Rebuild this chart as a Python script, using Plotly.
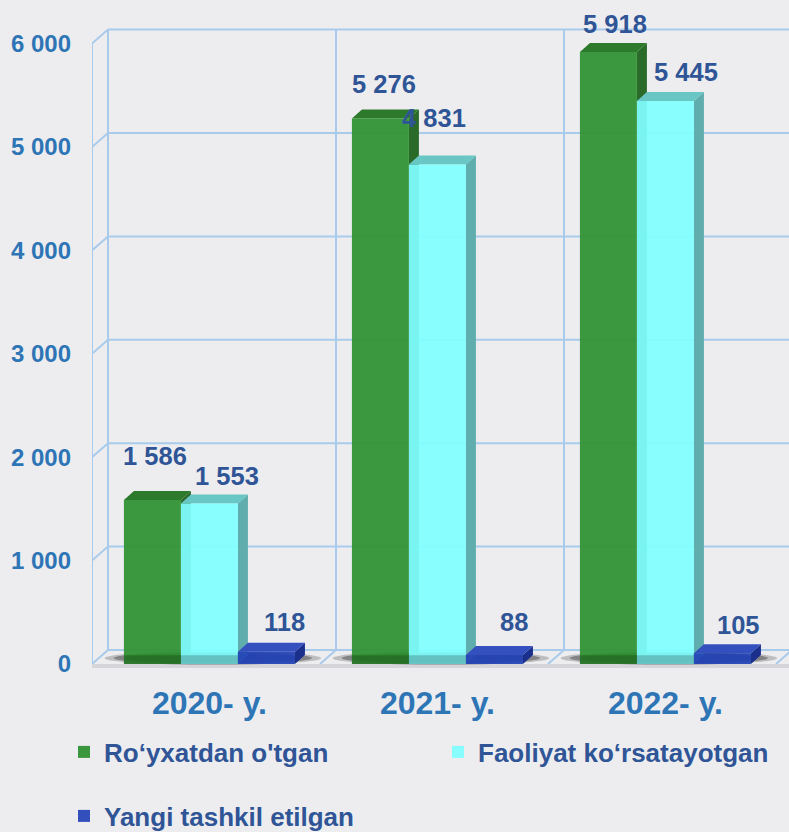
import plotly.graph_objects as go

# ---------------- data ----------------
categories = ["2020- y.", "2021- y.", "2022- y."]
series_names = ["Ro‘yxatdan o'tgan", "Faoliyat ko‘rsatayotgan", "Yangi tashkil etilgan"]
registered = [1586, 5276, 5918]
active = [1553, 4831, 5445]
new_created = [118, 88, 105]
y_tick_values = [0, 1000, 2000, 3000, 4000, 5000, 6000]
y_tick_labels = ["0", "1 000", "2 000", "3 000", "4 000", "5 000", "6 000"]

series_values = [registered, active, new_created]

# ---------------- style ----------------
BG = "#EDEDF0"
GRID = "#A9CBEB"
TICK_BLUE = "#2E75B6"
LABEL_BLUE = "#2F5597"
FONT = "Liberation Sans, Arial, sans-serif"
front_colors = ["#2E9130", "#80FFFF", "#2444B8"]
top_colors = ["#2E7A2C", "#68C6C4", "#3450BE"]
side_colors = ["#2B6B2A", "#5FAEAD", "#1A2E8C"]

W = 789
H = 832
ML, MR, MT, MB = 92, 0, 20, 152
PX_PER_X = 228.0
PX_PER_Y = 0.1034
X_MIN = -0.515
X_MAX = X_MIN + (W - ML - MR) / PX_PER_X
Y_MIN = -(680 - 664) / PX_PER_Y
Y_MAX = Y_MIN + (H - MT - MB) / PX_PER_Y

BAR_W = 0.25
BAR_DX = 10 / PX_PER_X
BAR_DY = 9 / PX_PER_Y
WALL_DX = 16 / PX_PER_X
WALL_DY = 14 / PX_PER_Y

# label offsets in pixels (x shift, y above front top) per series / year
label_dx = [[2.5, 4, 6.5], [17.5, -3, 21], [18, 20, 16]]
label_dy = [[44, 34, 28], [27, 46, 28.5], [30, 33, 28]]

# legend placement (pixels in the page) per series
legend_pos = [(64, 752), (438, 752), (64, 816)]

x_idx = list(range(len(categories)))
legend_ids = ["legend", "legend2", "legend3"]

fig = go.Figure()
for s, (name, vals) in enumerate(zip(series_names, series_values)):
    fig.add_trace(go.Bar(
        x=x_idx, y=vals, name=name,
        width=BAR_W, offset=-1.5 * BAR_W + s * BAR_W,
        marker=dict(color=front_colors[s], line=dict(width=0)),
        opacity=0.93,
        legend=legend_ids[s],
        hoverinfo="skip",
    ))

shapes = []
line_style = dict(color=GRID, width=2)

# back wall gridlines + left wall diagonals
for v in y_tick_values:
    shapes.append(dict(type="line", xref="x", yref="y", layer="below",
                       x0=X_MIN + WALL_DX, x1=X_MAX + 0.2, y0=v + WALL_DY, y1=v + WALL_DY, line=line_style))
    shapes.append(dict(type="line", xref="x", yref="y", layer="below",
                       x0=X_MIN, x1=X_MIN + WALL_DX, y0=v, y1=v + WALL_DY, line=line_style))
shapes.append(dict(type="line", xref="x", yref="y", layer="below",
                   x0=X_MIN, x1=X_MIN, y0=0, y1=y_tick_values[-1], line=line_style))
for k in range(len(categories) + 1):
    xb = X_MIN + k
    shapes.append(dict(type="line", xref="x", yref="y", layer="below",
                       x0=xb + WALL_DX, x1=xb + WALL_DX, y0=WALL_DY, y1=y_tick_values[-1] + WALL_DY,
                       line=line_style))
    if k > 0:
        shapes.append(dict(type="line", xref="x", yref="y", layer="below",
                           x0=xb, x1=xb + WALL_DX, y0=0, y1=WALL_DY, line=line_style))
# floor front edge
shapes.append(dict(type="rect", xref="x", yref="y", layer="below",
                   x0=X_MIN, x1=X_MAX + 0.2, y0=-38, y1=0,
                   fillcolor="#D6D6DA", line=dict(width=0)))

# shadows under bar groups
for i in x_idx:
    for a, b, o in [(0.0, 0.0, 0.2), (0.04, 0.03, 0.3), (0.09, 0.06, 0.4)]:
        shapes.append(dict(type="circle", xref="x", yref="y", layer="below",
                           x0=i - 0.46 + a, x1=i + 0.49 - a, y0=-10 + b * 300, y1=125 - b * 300,
                           fillcolor="black", opacity=o, line=dict(width=0)))

# 3D top and side faces
for i in x_idx:
    for s, vals in enumerate(series_values):
        v = vals[i]
        x0 = i - 1.5 * BAR_W + s * BAR_W
        x1 = x0 + BAR_W
        top = f"M {x0} {v} L {x0 + BAR_DX} {v + BAR_DY} L {x1 + BAR_DX} {v + BAR_DY} L {x1} {v} Z"
        side = f"M {x1} 0 L {x1} {v} L {x1 + BAR_DX} {v + BAR_DY} L {x1 + BAR_DX} {BAR_DY} Z"
        shapes.append(dict(type="path", xref="x", yref="y", layer="below", path=side,
                           fillcolor=side_colors[s], line=dict(width=0)))
        shapes.append(dict(type="path", xref="x", yref="y", layer="below", path=top,
                           fillcolor=top_colors[s], line=dict(width=0)))

# darker band at bar bottoms (shadow)
for i in x_idx:
    shapes.append(dict(type="rect", xref="x", yref="y", layer="above",
                       x0=i - 1.5 * BAR_W, x1=i + 0.5 * BAR_W, y0=0, y1=85,
                       fillcolor="black", opacity=0.2, line=dict(width=0)))

annotations = []
for s, vals in enumerate(series_values):
    for i, v in enumerate(vals):
        xc = i - 1.5 * BAR_W + s * BAR_W + BAR_W / 2
        annotations.append(dict(
            x=xc, y=v, xref="x", yref="y", showarrow=False,
            text=f"{v:,}".replace(",", " "),
            xshift=label_dx[s][i], yshift=label_dy[s][i],
            xanchor="center", yanchor="middle",
            font=dict(family=FONT, size=25.5, color=LABEL_BLUE, weight="bold"),
        ))

legend_font = dict(family=FONT, size=26, color=LABEL_BLUE, weight="bold")
legends = {}
for lid, (lx, ly) in zip(legend_ids, legend_pos):
    legends[lid] = dict(orientation="h", xref="container", yref="container",
                        x=lx / W, y=1 - ly / H, xanchor="left", yanchor="middle",
                        font=legend_font, bgcolor="rgba(0,0,0,0)")

fig.update_layout(
    width=W, height=H,
    margin=dict(l=ML, r=MR, t=MT, b=MB),
    paper_bgcolor=BG, plot_bgcolor=BG,
    barmode="overlay",
    shapes=shapes,
    annotations=annotations,
    xaxis=dict(range=[X_MIN, X_MAX], tickvals=x_idx, ticktext=categories,
               showgrid=False, zeroline=False, showline=False, ticks="",
               tickfont=dict(family=FONT, size=32, color=TICK_BLUE, weight="bold"),
               ticklabelstandoff=1, fixedrange=True),
    yaxis=dict(range=[Y_MIN, Y_MAX], tickvals=y_tick_values, ticktext=y_tick_labels,
               showgrid=False, zeroline=False, showline=False, ticks="",
               tickfont=dict(family=FONT, size=24, color=TICK_BLUE, weight="bold"),
               ticklabelstandoff=20, fixedrange=True),
    showlegend=True,
    **legends,
)

fig.write_html("out.html", config={"displayModeBar": False},
               post_script="document.body.style.margin='0';document.body.style.overflow='hidden';")
